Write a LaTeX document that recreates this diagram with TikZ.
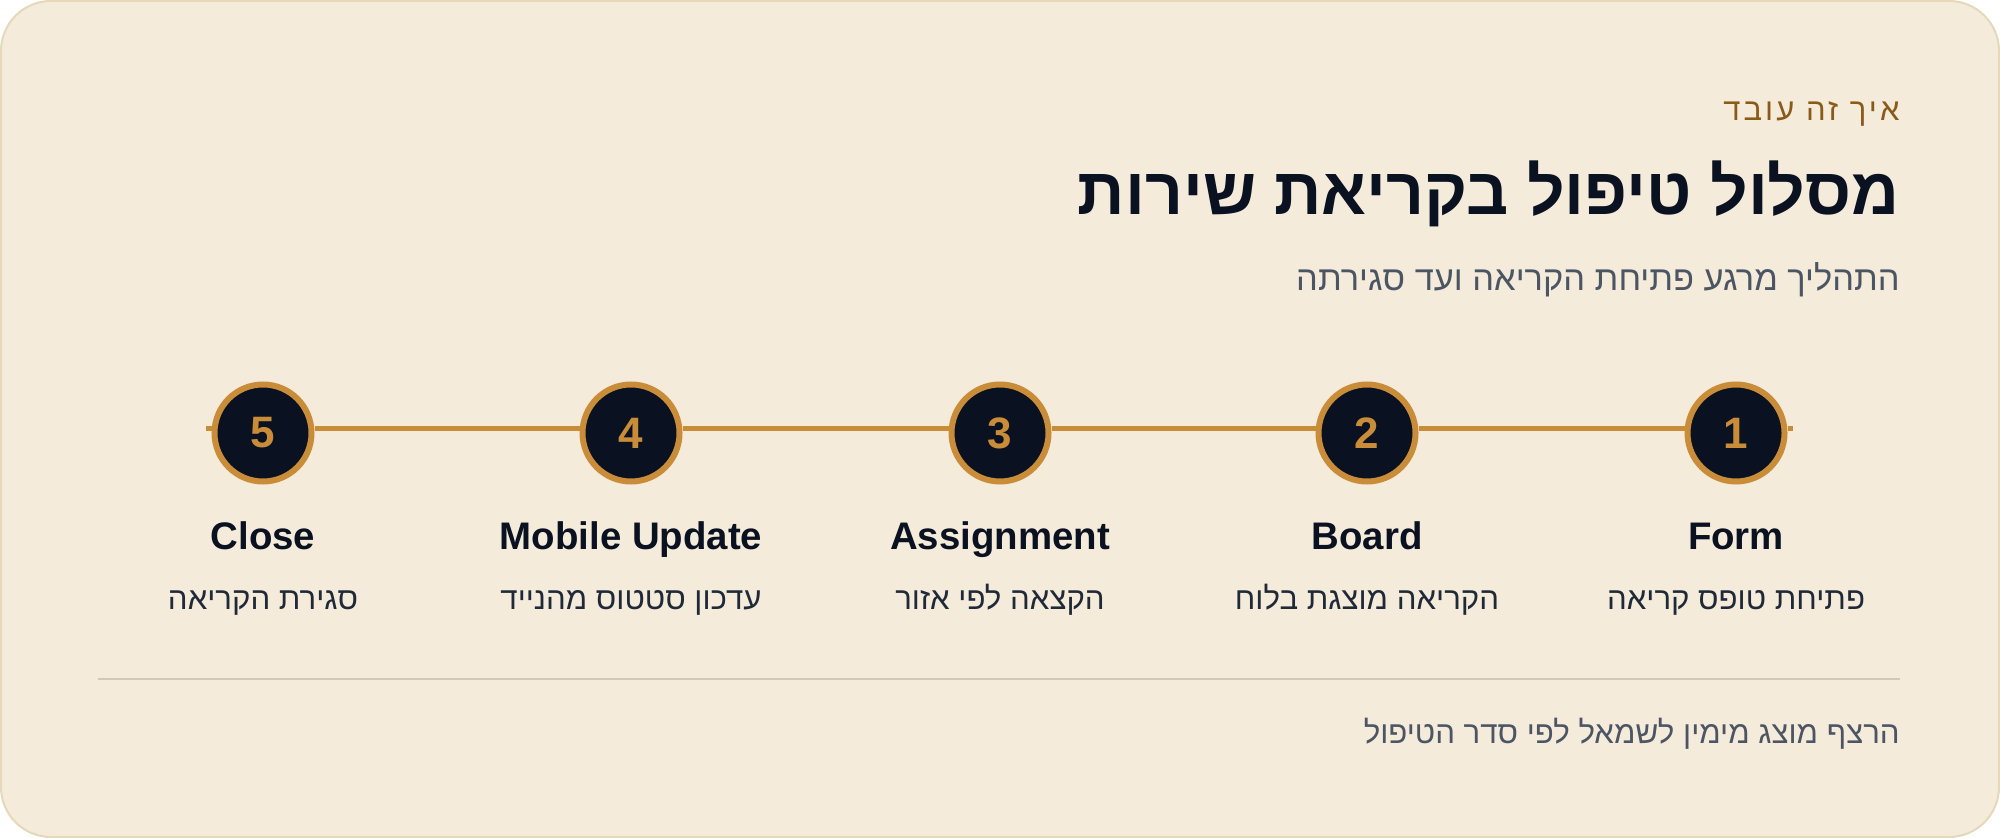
\documentclass[tikz,border=0pt]{standalone}
\usepackage{fontspec}
\setmainfont{Liberation Sans}
\newfontfamily\heb[Script=Hebrew]{Liberation Sans}
\newfontfamily\hebsp[Script=Hebrew,LetterSpace=10]{Liberation Sans}
\TeXXeTstate=1
\definecolor{bg}{HTML}{F5EBDB}
\definecolor{cardborder}{HTML}{E6D8BA}
\definecolor{navy}{HTML}{0A1120}
\definecolor{gold}{HTML}{C98D3A}
\definecolor{brownc}{HTML}{8A5A17}
\definecolor{grayc}{HTML}{4B5563}
\definecolor{darkc}{HTML}{1F2937}
\definecolor{divc}{HTML}{D3C8B6}
\tikzset{
  stepcircle/.style={circle, fill=navy, draw=gold, line width=3pt, minimum size=48.5pt, inner sep=0pt,
    text=gold, font=\bfseries\fontsize{22}{24}\selectfont},
  steptitle/.style={anchor=base, text=navy, font=\bfseries\fontsize{19.2}{22}\selectfont, inner sep=0pt},
  stepdesc/.style={anchor=base, text=darkc, font=\heb\fontsize{15.6}{18}\selectfont, inner sep=0pt},
  track/.style={gold, line width=2.5pt},
}
\begin{document}
\begin{tikzpicture}[x=0.5pt,y=-0.5pt]
\useasboundingbox (0,0) rectangle (2000,838);
\draw[fill=bg, draw=cardborder, line width=1pt, rounded corners=25pt] (1,1) rectangle (1999,837);

\node[anchor=base east, inner sep=0pt, text=brownc, font=\hebsp\fontsize{15.5}{18}\selectfont] (eyebrow) at (1900,121) {\beginR איך זה עובד\endR};
\node[anchor=base east, inner sep=0pt, text=navy, font=\heb\bfseries\fontsize{33}{38}\selectfont] (title) at (1900,215) {\beginR מסלול טיפול בקריאת שירות\endR};
\node[anchor=base east, inner sep=0pt, text=grayc, font=\heb\fontsize{17.2}{20}\selectfont] (subtitle) at (1900,291) {\beginR התהליך מרגע פתיחת הקריאה ועד סגירתה\endR};

\coordinate (ls) at (206,429);
\coordinate (le) at (1793,429);

\node[stepcircle] (s1) at (1736,433) {1};
\node[stepcircle] (s2) at (1367,433) {2};
\node[stepcircle] (s3) at (1000,433) {3};
\node[stepcircle] (s4) at (631,433) {4};
\node[stepcircle] (s5) at (263,433) {5};

\node[steptitle] (t1) at (1736,550) {Form};
\node[steptitle] (t2) at (1367,550) {Board};
\node[steptitle] (t3) at (1000,550) {Assignment};
\node[steptitle] (t4) at (631,550) {Mobile Update};
\node[steptitle] (t5) at (263,550) {Close};

\node[stepdesc] (d1) at (1736,610) {\beginR פתיחת טופס קריאה\endR};
\node[stepdesc] (d2) at (1367,610) {\beginR הקריאה מוצגת בלוח\endR};
\node[stepdesc] (d3) at (1000,610) {\beginR הקצאה לפי אזור\endR};
\node[stepdesc] (d4) at (631,610) {\beginR עדכון סטטוס מהנייד\endR};
\node[stepdesc] (d5) at (263,610) {\beginR סגירת הקריאה\endR};

\coordinate (dl) at (98,679);
\coordinate (dr) at (1900,679);
\draw[divc, line width=1pt] (dl) -- (dr);

\node[anchor=base east, inner sep=0pt, text=grayc, font=\heb\fontsize{15.6}{18}\selectfont] (footer) at (1900,743) {\beginR הרצף מוצג מימין לשמאל לפי סדר הטיפול\endR};

\draw[track] (le) -- (s1.east |- le);
\draw[track] (s1.west |- le) -- (s2.east |- le);
\draw[track] (s2.west |- le) -- (s3.east |- le);
\draw[track] (s3.west |- le) -- (s4.east |- le);
\draw[track] (s4.west |- le) -- (s5.east |- le);
\draw[track] (s5.west |- le) -- (ls);
\end{tikzpicture}
\end{document}
